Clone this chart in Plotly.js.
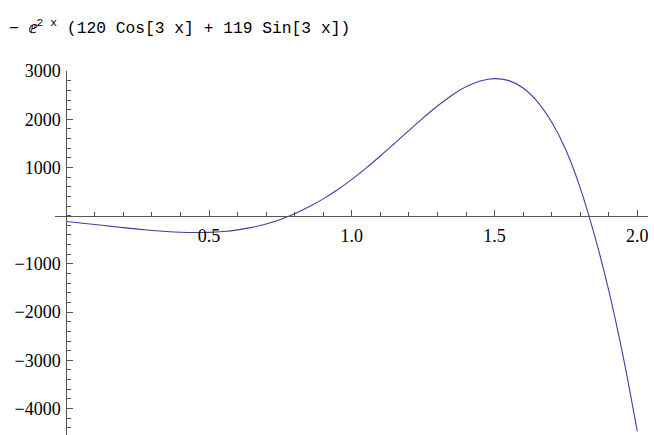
<!DOCTYPE html>
<html>
<head>
<meta charset="utf-8">
<script src="https://cdn.plot.ly/plotly-3.0.1.min.js"></script>
<style>html,body{margin:0;padding:0;background:#fff;}#chart{width:654px;height:435px;}</style>
</head>
<body>
<div id="chart"></div>
<script>
const xValues = [0, 0.05, 0.1, 0.15, 0.2, 0.25, 0.3, 0.35, 0.4, 0.45, 0.5,
  0.55, 0.6, 0.65, 0.7, 0.75, 0.8, 0.85, 0.9, 0.95, 1.0,
  1.05, 1.1, 1.15, 1.2, 1.25, 1.3, 1.35, 1.4, 1.45, 1.5,
  1.55, 1.6, 1.65, 1.7, 1.75, 1.8, 1.85, 1.9, 1.95, 2.0];
const yValues = [-120, -150.8, -183.0, -215.7, -248.0, -278.5, -305.8, -328.1, -343.6, -350.2, -345.7,
  -327.9, -294.2, -242.6, -170.9, -77.1, 40.2, 183.4, 348.7, 539.3, 753.7,
  988.1, 1238.9, 1500.7, 1766.7, 2028.2, 2274.8, 2494.4, 2673.1, 2795.5, 2844.6,
  2802.1, 2650.6, 2368.8, 1942.1, 1361.9, 578.1, -403.0, -1548.2, -2907.4, -4475.3];
const xTickVals = [0.5, 1.0, 1.5, 2.0];
const xTickText = ["0.5", "1.0", "1.5", "2.0"];
const yTickVals = [-4000, -3000, -2000, -1000, 1000, 2000, 3000];
const yTickText = ["\u22124000", "\u22123000", "\u22122000", "\u22121000", "1000", "2000", "3000"];
const titleText = "\u2212 \u2147<sup>2 x</sup> (120 Cos[3 x] + 119 Sin[3 x])";

const xRange = [-0.0396, 2.0375];
const yRange = [-4550, 3002];

const trace = {
  x: xValues, y: yValues, type: 'scatter', mode: 'lines',
  line: {color: '#3f3fa0', width: 1.1, shape: 'spline', smoothing: 1},
  hoverinfo: 'skip', cliponaxis: true
};

const axisColor = '#555555';
const tickFont = {family: 'Liberation Serif, serif', size: 18, color: '#000'};

const layout = {
  width: 654, height: 435,
  margin: {l: 55, r: 6, t: 71, b: 0, pad: 0},
  paper_bgcolor: '#fff', plot_bgcolor: '#fff',
  showlegend: false,
  title: {
    text: titleText,
    font: {family: 'Liberation Mono, monospace', size: 16.3, color: '#000'},
    xref: 'container', yref: 'container', x: 9/654, xanchor: 'left',
    y: 1 - 27/435, yanchor: 'middle'
  },
  xaxis: {
    range: xRange, anchor: 'free', position: (435 - 215.7) / 364,
    showgrid: false, zeroline: false, showline: true, linecolor: axisColor, linewidth: 1,
    ticks: 'inside', ticklen: 6, tickwidth: 1, tickcolor: axisColor,
    tickvals: xTickVals, ticktext: xTickText, tickfont: tickFont,
    ticklabelstandoff: 4,
    minor: {ticks: 'inside', ticklen: 3.5, tickwidth: 1, tickcolor: axisColor, dtick: 0.1, tick0: 0, showgrid: false}
  },
  yaxis: {
    range: yRange, anchor: 'free', position: 11.3 / 593,
    showgrid: false, zeroline: false, showline: true, linecolor: axisColor, linewidth: 1,
    ticks: 'inside', ticklen: 6, tickwidth: 1, tickcolor: axisColor,
    tickvals: yTickVals, ticktext: yTickText, tickfont: tickFont,
    ticklabelstandoff: 2,
    minor: {ticks: 'inside', ticklen: 3.5, tickwidth: 1, tickcolor: axisColor, dtick: 200, tick0: 0, showgrid: false}
  }
};

Plotly.newPlot('chart', [trace], layout, {displayModeBar: false, staticPlot: true});
</script>
</body>
</html>
